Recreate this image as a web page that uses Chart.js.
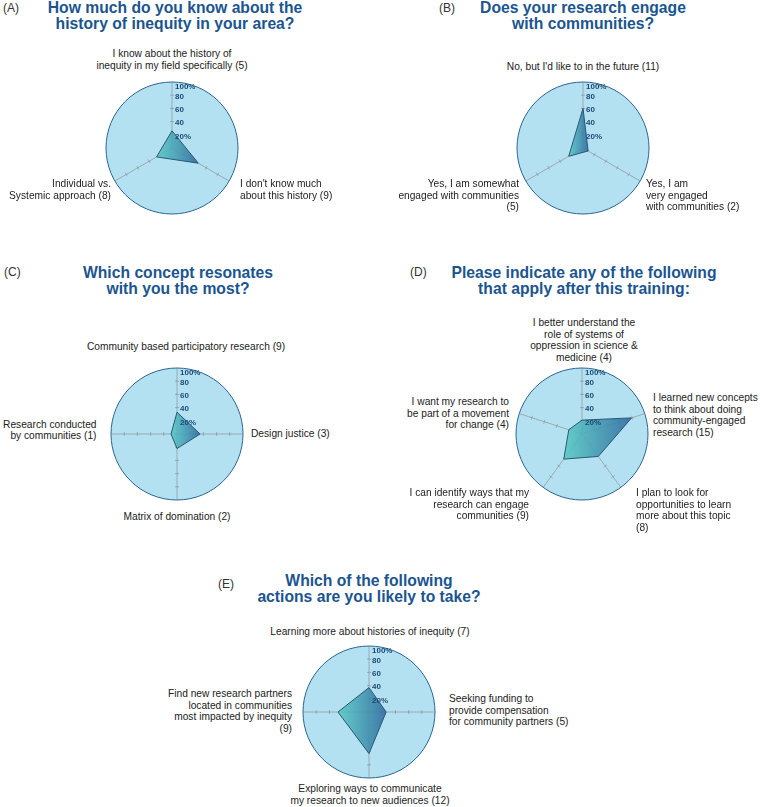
<!doctype html>
<html>

<head>
    <title>Inequity training survey</title>
    <script src="https://cdn.jsdelivr.net/npm/chart.js"></script>
    <style>
        body {
            margin: 0;
            width: 760px;
            height: 807px;
            position: relative;
            background: #fff;
            overflow: hidden;
            font-family: "Liberation Sans", Arial, sans-serif;
        }

        .titulo {
            position: absolute;
            width: 340px;
            margin-left: -170px;
            text-align: center;
            color: #1b5590;
            font-weight: bold;
            font-size: 15.7px;
            line-height: 15.5px;
            white-space: nowrap;
        }

        .letra {
            position: absolute;
            font-size: 12px;
            line-height: 14px;
            color: #333;
        }

        .rotulo {
            position: absolute;
            font-size: 10.2px;
            line-height: 11.7px;
            color: #222;
            white-space: nowrap;
        }

        canvas {
            position: absolute;
        }
    </style>
</head>

<body>
    <div class="letra" style="left:3px; top:1px">(A)</div>
    <div class="titulo" style="left:175px; top:0px">How much do you know about the<br>history of inequity in your area?</div>
    <div class="letra" style="left:439px; top:1px">(B)</div>
    <div class="titulo" style="left:583px; top:0px">Does your research engage<br>with communities?</div>
    <div class="letra" style="left:4px; top:265px">(C)</div>
    <div class="titulo" style="left:178px; top:265px">Which concept resonates<br>with you the most?</div>
    <div class="letra" style="left:410px; top:265px">(D)</div>
    <div class="titulo" style="left:584px; top:265px">Please indicate any of the following<br>that apply after this training:</div>
    <div class="letra" style="left:218px; top:577px">(E)</div>
    <div class="titulo" style="left:369px; top:573px">Which of the following<br>actions are you likely to take?</div>

    <canvas id="radarA"></canvas>
    <canvas id="radarB"></canvas>
    <canvas id="radarC"></canvas>
    <canvas id="radarD"></canvas>
    <canvas id="radarE"></canvas>

    <script>
        // dados (% de respostas por opção)
        var categoriasA = [["I know about the history of", "inequity in my field specifically (5)"], ["I don't know much", "about this history (9)"], ["Individual vs.", "Systemic approach (8)"]]
        var valoresA = [26, 46, 27]

        var categoriasB = [["No, but I'd like to in the future (11)"], ["Yes, I am", "very engaged", "with communities (2)"], ["Yes, I am somewhat", "engaged with communities", "(5)"]]
        var valoresB = [60, 9, 25]

        var categoriasC = [["Community based participatory research (9)"], ["Design justice (3)"], ["Matrix of domination (2)"], ["Research conducted", "by communities (1)"]]
        var valoresC = [33, 35, 22, 9]

        var categoriasD = [["I better understand the", "role of systems of", "oppression in science &", "medicine (4)"], ["I learned new concepts", "to think about doing", "community-engaged", "research (15)"], ["I plan to look for", "opportunities to learn", "more about this topic", "(8)"], ["I can identify ways that my", "research can engage", "communities (9)"], ["I want my research to", "be part of a movement", "for change (4)"]]
        var valoresD = [21, 79, 42, 47, 21]

        var categoriasE = [["Learning more about histories of inequity (7)"], ["Seeking funding to", "provide compensation", "for community partners (5)"], ["Exploring ways to communicate", "my research to new audiences (12)"], ["Find new research partners", "located in communities", "most impacted by inequity", "(9)"]]
        var valoresE = [37, 26, 63, 47]

        var ticksRadar = [20, 40, 60, 80, 100]
        var rotulosTicks = ["20%", "40", "60", "80", "100%"]

        // layout
        var raio = 66
        var margem = 4
        var corFundo = '#b3e1f2'
        var corBorda = '#2a6590'
        var corEixo = 'rgba(135,135,135,0.6)'

        var posRotulosA = [[172, 48, 'c'], [240, 178, 'l'], [111, 178, 'r']]
        var posRotulosB = [[583, 61, 'c'], [646, 178, 'l'], [519, 178, 'r']]
        var posRotulosC = [[186, 341, 'c'], [251, 428, 'l'], [177, 511, 'c'], [96.5, 418.5, 'r']]
        var posRotulosD = [[584, 317, 'c'], [653, 392, 'l'], [636, 487, 'l'], [529, 487, 'r'], [509, 396, 'r']]
        var posRotulosE = [[370, 626, 'c'], [449, 693, 'l'], [370, 783, 'c'], [292, 688, 'r']]

        function colocarRotulos(categorias, posicoes) {
            categorias.forEach(function (linhas, i) {
                var div = document.createElement('div')
                div.className = 'rotulo'
                div.innerHTML = linhas.join('<br>')
                var p = posicoes[i]
                div.style.top = p[1] + 'px'
                if (p[2] == 'c') {
                    div.style.left = p[0] + 'px'
                    div.style.transform = 'translateX(-50%)'
                    div.style.textAlign = 'center'
                } else if (p[2] == 'l') {
                    div.style.left = p[0] + 'px'
                } else {
                    div.style.right = (760 - p[0]) + 'px'
                    div.style.textAlign = 'right'
                }
                document.body.appendChild(div)
            })
        }

        // marquinhas nos eixos e rótulos de % desenhados pela própria escala
        var pluginEixos = {
            id: 'eixos',
            beforeDatasetsDraw: function (chart) {
                var escala = chart.scales.r
                var ctx = chart.ctx
                var n = chart.data.labels.length
                ctx.save()
                ctx.strokeStyle = corEixo
                ctx.lineWidth = 1
                for (var i = 0; i < n; i++) {
                    var ang = escala.getIndexAngle(i) - Math.PI / 2
                    var px = -Math.sin(ang), py = Math.cos(ang)
                    ticksRadar.slice(0, 4).forEach(function (v) {
                        var pos = escala.getPointPositionForValue(i, v)
                        ctx.beginPath()
                        ctx.moveTo(pos.x - px * 2, pos.y - py * 2)
                        ctx.lineTo(pos.x + px * 2, pos.y + py * 2)
                        ctx.stroke()
                    })
                }
                ctx.restore()
            },
            afterDatasetsDraw: function (chart) {
                var escala = chart.scales.r
                var ctx = chart.ctx
                ctx.save()
                ctx.font = 'bold 8px "Liberation Sans", Arial, sans-serif'
                ctx.fillStyle = '#1d4a75'
                ctx.textAlign = 'left'
                ctx.textBaseline = 'middle'
                ticksRadar.forEach(function (v, k) {
                    var pos = escala.getPointPositionForValue(0, v)
                    var dy = v == 100 ? 5 : 1.5
                    ctx.fillText(rotulosTicks[k], pos.x + 3, pos.y + dy)
                })
                ctx.restore()
            }
        }

        function preenchimento(context) {
            var chart = context.chart
            var escala = chart.scales.r
            if (!escala || escala.xCenter == null) return 'rgba(70,160,180,0.85)'
            var xs = context.dataset.data.map(function (v, i) {
                return escala.getPointPositionForValue(i, v).x
            })
            var x0 = Math.min.apply(null, xs), x1 = Math.max.apply(null, xs)
            if (x1 - x0 < 1) return 'rgba(70,160,180,0.85)'
            var g = chart.ctx.createLinearGradient(x0, 0, x1, 0)
            g.addColorStop(0, 'rgba(88,202,196,0.88)')
            g.addColorStop(1, 'rgba(50,108,160,0.9)')
            return g
        }

        function criarRadar(id, cx, cy, categorias, valores) {
            var canvas = document.getElementById(id)
            var lado = 2 * (raio + margem)
            canvas.width = lado
            canvas.height = lado
            canvas.style.left = (cx - raio - margem) + 'px'
            canvas.style.top = (cy - raio - margem) + 'px'
            return new Chart(canvas.getContext('2d'), {
                type: 'radar',
                data: {
                    labels: categorias.map(function (l) { return l.join(' ') }),
                    datasets: [{
                        data: valores,
                        backgroundColor: preenchimento,
                        borderColor: '#2b5870',
                        borderWidth: 1,
                        pointRadius: 0,
                        fill: true
                    }]
                },
                options: {
                    responsive: false,
                    animation: false,
                    layout: { padding: margem },
                    plugins: {
                        legend: { display: false },
                        tooltip: { enabled: false }
                    },
                    scales: {
                        r: {
                            min: 0,
                            max: 100,
                            backgroundColor: corFundo,
                            ticks: { display: false, stepSize: 20 },
                            pointLabels: { display: false },
                            angleLines: { color: corEixo, lineWidth: 1 },
                            grid: {
                                circular: true,
                                lineWidth: 1,
                                color: function (c) {
                                    return c.tick && c.tick.value == 100 ? corBorda : 'rgba(0,0,0,0)'
                                }
                            }
                        }
                    }
                },
                plugins: [pluginEixos]
            })
        }

        colocarRotulos(categoriasA, posRotulosA)
        colocarRotulos(categoriasB, posRotulosB)
        colocarRotulos(categoriasC, posRotulosC)
        colocarRotulos(categoriasD, posRotulosD)
        colocarRotulos(categoriasE, posRotulosE)

        var radarA = criarRadar('radarA', 172, 148, categoriasA, valoresA)
        var radarB = criarRadar('radarB', 583, 148, categoriasB, valoresB)
        var radarC = criarRadar('radarC', 177, 434, categoriasC, valoresC)
        var radarD = criarRadar('radarD', 582, 434, categoriasD, valoresD)
        var radarE = criarRadar('radarE', 369, 712, categoriasE, valoresE)
    </script>
</body>

</html>
